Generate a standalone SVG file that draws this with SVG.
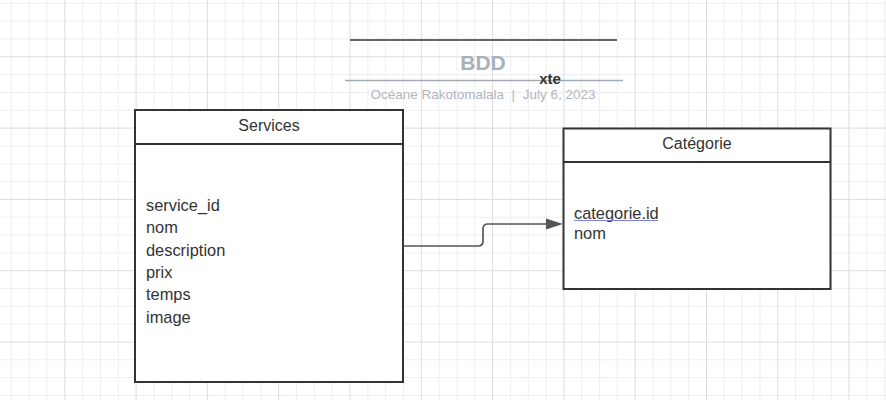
<svg xmlns="http://www.w3.org/2000/svg" width="886" height="400" viewBox="0 0 886 400">
  <style>
    .box { fill: #ffffff; stroke: #333333; stroke-width: 2; }
    .div { stroke: #333333; stroke-width: 2; }
    .hdr { font-family: "Liberation Sans", Arial, sans-serif; font-size: 16px; fill: #333333; text-anchor: middle; }
    .fld { font-family: "Liberation Sans", Arial, sans-serif; font-size: 16.4px; fill: #333333; }
    .conn { fill: none; stroke: #555555; stroke-width: 1.7; }
  </style>
  <defs>
    <pattern id="grid" patternUnits="userSpaceOnUse" x="64.3" y="56.3" width="71.3" height="71.3">
      <rect x="17.83" y="0" width="1" height="71.3" fill="#eeeeee"/>
      <rect x="35.65" y="0" width="1" height="71.3" fill="#eeeeee"/>
      <rect x="53.48" y="0" width="1" height="71.3" fill="#eeeeee"/>
      <rect x="0" y="17.83" width="71.3" height="1" fill="#eeeeee"/>
      <rect x="0" y="35.65" width="71.3" height="1" fill="#eeeeee"/>
      <rect x="0" y="53.48" width="71.3" height="1" fill="#eeeeee"/>
      <rect x="0" y="0" width="1" height="71.3" fill="#dcdcdc"/>
      <rect x="0" y="0" width="71.3" height="1" fill="#dcdcdc"/>
    </pattern>
  </defs>
  <rect x="0" y="0" width="886" height="400" fill="#ffffff"/>
  <rect x="0" y="0" width="886" height="400" fill="url(#grid)"/>

  <g id="title">
    <line x1="350" y1="40" x2="617" y2="40" stroke="#666666" stroke-width="2"/>
    <text x="483" y="70" font-family="Liberation Sans, Arial, sans-serif" font-size="21" font-weight="bold" fill="#a9b0bc" text-anchor="middle">BDD</text>
    <line x1="345" y1="80.5" x2="623" y2="80.5" stroke="#a3aab6" stroke-width="1.6"/>
    <text x="550" y="84" font-family="Liberation Sans, Arial, sans-serif" font-size="15" font-weight="bold" fill="#333333" text-anchor="middle">xte</text>
    <text x="483" y="98.5" xml:space="preserve" font-family="Liberation Sans, Arial, sans-serif" font-size="13.5" fill="#b0b5be" text-anchor="middle">Océane Rakotomalala  |  July 6, 2023</text>
  </g>

  <g id="services">
    <rect class="box" x="135" y="110" width="268" height="272"/>
    <line class="div" x1="135" y1="144" x2="403" y2="144"/>
    <text class="hdr" x="269" y="131">Services</text>
    <text class="fld" x="146" y="210.7">service_id</text>
    <text class="fld" x="146" y="233.1">nom</text>
    <text class="fld" x="146" y="255.5">description</text>
    <text class="fld" x="146" y="277.9">prix</text>
    <text class="fld" x="146" y="300.3">temps</text>
    <text class="fld" x="146" y="322.7">image</text>
  </g>

  <g id="categorie">
    <rect class="box" x="563.5" y="128.5" width="267" height="160.5"/>
    <line class="div" x1="563.5" y1="162" x2="830.5" y2="162"/>
    <text class="hdr" x="697" y="148.5">Catégorie</text>
    <text class="fld" x="574" y="219">categorie.id</text>
    <line x1="574" y1="220.5" x2="658" y2="220.5" stroke="#8080e0" stroke-width="1"/>
    <text class="fld" x="574" y="238.7">nom</text>
  </g>

  <g id="connectors">
    <path class="conn" d="M403,246 H478 Q483,246 483,241 V229 Q483,224 488,224 H548"/>
    <polygon points="563,224 546,218.5 546,229.5" fill="#555555"/>
  </g>
</svg>
